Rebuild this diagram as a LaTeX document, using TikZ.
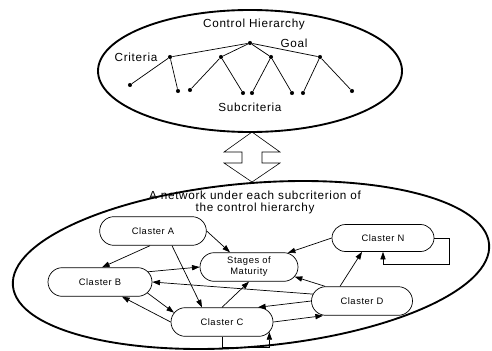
\documentclass[tikz,border=0pt]{standalone}
\usepackage{fontspec}
\setmainfont{Liberation Sans}[LetterSpace=6]
\usetikzlibrary{
    arrows.meta,
    shapes.geometric,
    shapes.misc
}
\tikzset{
    every picture/.style = {
        > = {Triangle[length = 6.5pt, width = 4.5pt]},
        line width = 0.6pt
    },
    region/.style = {
        draw,
        ellipse,
        line width = 1.6pt,
        inner sep = 0pt
    },
    dot/.style = {
        circle,
        fill,
        inner sep = 0pt,
        minimum size = 3.5pt
    },
    lbl/.style = {
        inner sep = 0pt,
        align = center,
        font = \fontsize{10}{10.5}\selectfont
    },
    cluster/.style = {
        draw,
        rounded rectangle,
        minimum width = 3.06cm,
        minimum height = 0.86cm,
        inner sep = 0pt,
        align = center,
        font = \fontsize{8}{9.5}\selectfont
    }
}

\begin{document}
\begin{tikzpicture}
    \useasboundingbox (0, 0) rectangle (14.76, 10.5);
    % control hierarchy
    \node[region, minimum width = 9.12cm, minimum height = 3.66cm] (ctrl) at (7.5, 8.37) {};
    \node[lbl] (ctrltxt) at (7.62, 9.78) {Control Hierarchy};
    \node[dot] (goal) at (7.5, 9.21) {};
    \node[dot] (cr1) at (5.1, 8.79) {};
    \node[dot] (cr2) at (6.63, 8.79) {};
    \node[dot] (cr3) at (8.13, 8.79) {};
    \node[dot] (cr4) at (9.6, 8.79) {};
    \node[dot] (sc1) at (3.9, 7.95) {};
    \node[dot] (sc2) at (5.34, 7.77) {};
    \node[dot] (sc3) at (5.7, 7.8) {};
    \node[dot] (sc4) at (7.29, 7.71) {};
    \node[dot] (sc5) at (7.56, 7.71) {};
    \node[dot] (sc6) at (8.76, 7.71) {};
    \node[dot] (sc7) at (9.09, 7.71) {};
    \node[dot] (sc8) at (10.56, 7.77) {};
    \node[lbl] (goaltxt) at (8.82, 9.21) {Goal};
    \node[lbl] (crtxt) at (4.08, 8.79) {Criteria};
    \node[lbl] (sctxt) at (7.5, 7.29) {Subcriteria};
    \path (goal) edge (cr1) edge (cr2) edge (cr3) edge (cr4);
    \path (cr1) edge (sc1) edge (sc2);
    \path (cr2) edge (sc3) edge (sc4);
    \path (cr3) edge (sc5) edge (sc6);
    \path (cr4) edge (sc7) edge (sc8);

    % link between the two levels
    \coordinate (link) at (7.56, 5.79);
    \draw[line width = 0.5pt] ([yshift = 0.75cm]link) -- ++(0.84, -0.6) -- ++(-0.54, 0)
        -- ++(0, -0.33) -- ++(0.54, 0) -- ([yshift = -0.75cm]link) -- ++(-0.84, 0.57)
        -- ++(0.54, 0) -- ++(0, 0.33) -- ++(-0.54, 0) -- cycle;

    % network
    \node[region, rotate = 5, minimum width = 14.34cm, minimum height = 4.9cm] (net) at (7.53, 2.55) {};
    \node[lbl] (nettxt) at (7.65, 4.42) {A network under each subcriterion of\\the control hierarchy};
    \node[cluster, minimum width = 3.2cm] (A) at (4.59, 3.57) {Claster A};
    \node[cluster, minimum width = 3.12cm] (B) at (3.0, 2.04) {Claster B};
    \node[cluster, minimum width = 2.94cm] (Stages) at (7.47, 2.49) {Stages of\\Maturity};
    \node[cluster] (C) at (6.66, 0.84) {Claster C};
    \node[cluster, minimum width = 3.03cm] (D) at (10.86, 1.47) {Claster D};
    \node[cluster, minimum height = 0.81cm] (N) at (11.49, 3.36) {Claster N};

    \path[->] ([xshift = -0.09cm]A.south) edge ([xshift = 0.06cm]B.north);
    \path[->] (A.east) edge ([xshift = -0.57cm]Stages.north);
    \path[->] ([xshift = 0.57cm]A.south) edge ([xshift = -0.6cm]C.north);
    \path[->] (B.12) edge (Stages.west);
    \path[->] (D.172) edge (B.east);
    \path[->] (B.-13) edge (C.169);
    \path[->] (C.west) edge ([xshift = 0.66cm]B.south);
    \path[->] (C.north) edge (Stages.south);
    \path[->] ([xshift = -1.11cm]D.north) edge (Stages.-12);
    \path[->] (N.west) edge (Stages.20);
    \path[->] ([xshift = -0.66cm]D.north) edge ([xshift = -0.63cm]N.south);
    \path[->] (D.west) edge ([xshift = 1.08cm]C.north);
    \path[->] (C.east) edge ([xshift = -1.17cm]D.south);
    \draw[->] (N.east) -- ++(0.45, 0) -- ++(0, -0.8) -| (N.south);
    \draw[->] (C.south) -- ++(0, -0.33) -| (C.-12);
\end{tikzpicture}
\end{document}
